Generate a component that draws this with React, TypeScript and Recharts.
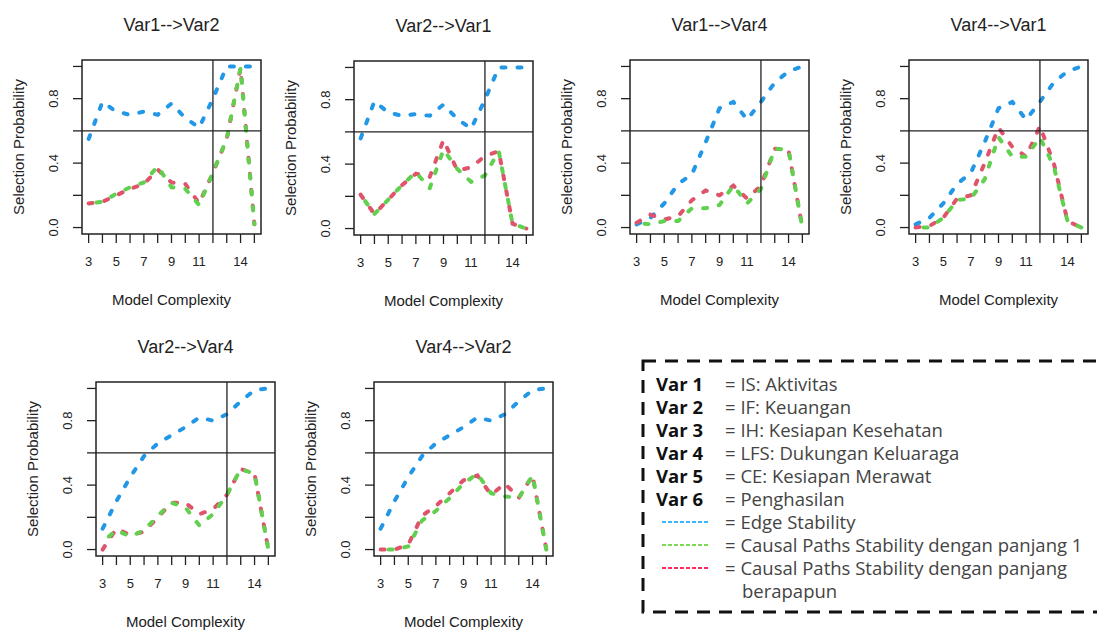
import React from 'react';
import { LineChart, Line, XAxis, YAxis, ReferenceLine, ReferenceArea } from 'recharts';

// ---------- data ----------
const complexity = [3, 4, 5, 6, 7, 8, 9, 10, 11, 12, 13, 14, 15];
const xTickLabels = [3, 5, 7, 9, 11, 14];
const yTicks = [0, 0.2, 0.4, 0.6, 0.8, 1];
const yTickLabels = [0, 0.4, 0.8];
const complexityCut = 12;
const probabilityCut = 0.6;

const panelTitles = ['Var1-->Var2', 'Var2-->Var1', 'Var1-->Var4', 'Var4-->Var1', 'Var2-->Var4', 'Var4-->Var2'];

// Var1-->Var2
const v1v2Edge = [0.55, 0.78, 0.72, 0.7, 0.72, 0.7, 0.77, 0.68, 0.62, 0.8, 1.0, 1.0, 1.0];
const v1v2Len1 = [0.15, 0.16, 0.21, 0.25, 0.28, 0.38, 0.25, 0.24, 0.14, 0.34, 0.55, 0.99, 0.02];
const v1v2Any = [0.15, 0.16, 0.2, 0.24, 0.27, 0.36, 0.28, 0.27, 0.15, 0.34, 0.55, 0.99, 0.02];
// Var2-->Var1
const v2v1Edge = [0.56, 0.79, 0.72, 0.7, 0.71, 0.7, 0.77, 0.68, 0.62, 0.8, 1.0, 1.0, 1.0];
const v2v1Len1 = [0.21, 0.09, 0.18, 0.27, 0.35, 0.25, 0.49, 0.37, 0.29, 0.33, 0.48, 0.03, 0.0];
const v2v1Any = [0.21, 0.09, 0.18, 0.27, 0.34, 0.32, 0.55, 0.36, 0.38, 0.45, 0.48, 0.03, 0.0];
// Var1-->Var4
const v1v4Edge = [0.02, 0.06, 0.15, 0.27, 0.33, 0.53, 0.74, 0.78, 0.67, 0.78, 0.9, 0.97, 1.0];
const v1v4Len1 = [0.03, 0.02, 0.04, 0.04, 0.12, 0.12, 0.14, 0.26, 0.15, 0.24, 0.49, 0.48, 0.0];
const v1v4Any = [0.03, 0.08, 0.05, 0.07, 0.17, 0.23, 0.2, 0.26, 0.18, 0.26, 0.49, 0.48, 0.0];
// Var4-->Var1
const v4v1Edge = [0.02, 0.06, 0.15, 0.27, 0.34, 0.53, 0.74, 0.78, 0.67, 0.78, 0.9, 0.97, 1.0];
const v4v1Len1 = [0.0, 0.0, 0.06, 0.17, 0.18, 0.3, 0.56, 0.44, 0.44, 0.56, 0.38, 0.04, 0.0];
const v4v1Any = [0.0, 0.01, 0.06, 0.18, 0.2, 0.4, 0.62, 0.5, 0.44, 0.63, 0.4, 0.04, 0.0];
// Var2-->Var4
const v2v4Edge = [0.13, 0.3, 0.45, 0.58, 0.66, 0.71, 0.76, 0.82, 0.8, 0.84, 0.92, 0.99, 1.0];
const v2v4Len1 = [0.05, 0.12, 0.08, 0.12, 0.21, 0.29, 0.26, 0.15, 0.22, 0.34, 0.5, 0.47, 0.0];
const v2v4Any = [0.0, 0.13, 0.09, 0.11, 0.2, 0.29, 0.29, 0.22, 0.25, 0.34, 0.5, 0.47, 0.0];
// Var4-->Var2
const v4v2Edge = [0.13, 0.3, 0.45, 0.58, 0.66, 0.71, 0.76, 0.82, 0.8, 0.84, 0.92, 0.99, 1.0];
const v4v2Len1 = [0.0, 0.0, 0.02, 0.18, 0.24, 0.32, 0.41, 0.47, 0.35, 0.33, 0.32, 0.46, 0.0];
const v4v2Any = [0.0, 0.0, 0.03, 0.21, 0.27, 0.35, 0.43, 0.46, 0.34, 0.41, 0.32, 0.46, 0.0];

const legendVars = ['Var 1', 'Var 2', 'Var 3', 'Var 4', 'Var 5', 'Var 6'];
const legendVarDesc = ['IS: Aktivitas', 'IF: Keuangan', 'IH: Kesiapan Kesehatan', 'LFS: Dukungan Keluaraga', 'CE: Kesiapan Merawat', 'Penghasilan'];
const legendSeries = ['Edge Stability', 'Causal Paths Stability dengan panjang 1', 'Causal Paths Stability dengan panjang'];
const legendWrap = 'berapapun';

// ---------- styling / layout ----------
const BLUE = '#2297E6';
const RED = '#DF536B';
const GREEN = '#61D04F';
const INK = '#222';
const RF = '"Liberation Sans", Arial, Helvetica, sans-serif';
const LF = '"Open Sans", "Noto Sans", sans-serif';

const BW = 179;
const BH = 174;
const ML = 80;
const MT = 10;
const MR = 10;
const MB = 50;

const panelBoxes = [
  { left: 82, top: 60 },
  { left: 354, top: 61 },
  { left: 630, top: 60 },
  { left: 909, top: 60 },
  { left: 96, top: 382 },
  { left: 374, top: 382 },
];

const panelSeries = [
  [v1v2Edge, v1v2Len1, v1v2Any],
  [v2v1Edge, v2v1Len1, v2v1Any],
  [v1v4Edge, v1v4Len1, v1v4Any],
  [v4v1Edge, v4v1Len1, v4v1Any],
  [v2v4Edge, v2v4Len1, v2v4Any],
  [v4v2Edge, v4v2Len1, v4v2Any],
];

const XTick = (props: any) => {
  const { x, y, payload } = props;
  if (!xTickLabels.includes(payload.value)) return <g />;
  return (
    <text x={x} y={y + 9.5} textAnchor="middle" fontSize={13} fill={INK} fontFamily={RF}>
      {payload.value}
    </text>
  );
};

const YTick = (props: any) => {
  const { x, y, payload } = props;
  const v = payload.value;
  if (!yTickLabels.some((t) => Math.abs(t - v) < 1e-6)) return <g />;
  return (
    <text
      x={x}
      y={y}
      transform={`rotate(-90 ${x} ${y})`}
      textAnchor="middle"
      fontSize={13}
      fill={INK}
      fontFamily={RF}
    >
      {v.toFixed(1)}
    </text>
  );
};

const abs = (left: number, top: number, extra: any = {}) => ({
  position: 'absolute' as const,
  left,
  top,
  whiteSpace: 'nowrap' as const,
  lineHeight: 1,
  ...extra,
});

function Panel({ idx }: { idx: number }) {
  const box = panelBoxes[idx];
  const [edge, len1, any] = panelSeries[idx];
  const rows = complexity.map((x, i) => ({ x, edge: edge[i], len1: len1[i], any: any[i] }));
  const cx = box.left + BW / 2;
  const lineProps = {
    type: 'linear' as const,
    dot: false,
    activeDot: false,
    isAnimationActive: false,
    strokeWidth: 4,
    strokeDasharray: '4 12',
    strokeLinecap: 'round' as const,
  };
  return (
    <>
      <div style={{ position: 'absolute', left: box.left - ML, top: box.top - MT }}>
        <LineChart
          width={ML + BW + MR}
          height={MT + BH + MB}
          data={rows}
          margin={{ top: MT, right: MR, left: ML - 40, bottom: MB - 40 }}
        >
          <XAxis
            type="number"
            dataKey="x"
            domain={[2.52, 15.48]}
            ticks={complexity}
            interval={0}
            height={40}
            axisLine={false}
            tickSize={9}
            tickMargin={13}
            tickLine={{ stroke: INK, strokeWidth: 1.3 }}
            tick={<XTick />}
            allowDataOverflow
          />
          <YAxis
            type="number"
            domain={[-0.04, 1.04]}
            ticks={yTicks}
            interval={0}
            width={40}
            axisLine={false}
            tickSize={9}
            tickMargin={15}
            tickLine={{ stroke: INK, strokeWidth: 1.3 }}
            tick={<YTick />}
            allowDataOverflow
          />
          <Line {...lineProps} dataKey="edge" stroke={BLUE} />
          <Line {...lineProps} dataKey="any" stroke={RED} />
          <Line {...lineProps} dataKey="len1" stroke={GREEN} strokeDashoffset={8} />
          <ReferenceLine x={complexityCut} stroke={INK} strokeWidth={1.3} />
          <ReferenceLine y={probabilityCut} stroke={INK} strokeWidth={1.3} />
          <ReferenceArea
            x1={2.52}
            x2={15.48}
            y1={-0.04}
            y2={1.04}
            fill="none"
            fillOpacity={0}
            stroke={INK}
            strokeWidth={1.5}
            ifOverflow="visible"
          />
        </LineChart>
      </div>
      <div style={abs(cx, box.top - 35, { transform: 'translate(-50%,-50%)', fontSize: 18, fontFamily: RF, color: INK })}>
        {panelTitles[idx]}
      </div>
      <div
        style={abs(box.left - 64, box.top + BH / 2, {
          transform: 'translate(-50%,-50%) rotate(-90deg)',
          fontSize: 15,
          fontFamily: RF,
          color: INK,
        })}
      >
        Selection Probability
      </div>
      <div style={abs(cx, box.top + BH + 65, { transform: 'translate(-50%,-50%)', fontSize: 15, fontFamily: RF, color: INK })}>
        Model Complexity
      </div>
    </>
  );
}

function Legend() {
  const rowY = (i: number) => 384 + 23 * i;
  const seriesColors = ['#38b6ff', '#7ed957', '#ff2a5c'];
  const fs = 18.5;
  return (
    <>
      <svg style={{ position: 'absolute', left: 630, top: 350 }} width={467} height={275}>
        <rect x={13} y={11} width={480} height={251} fill="none" stroke="#111" strokeWidth={3} strokeDasharray="13 9" />
        {seriesColors.map((c, i) => (
          <line
            key={i}
            x1={32}
            x2={80}
            y1={rowY(6 + i) - 350}
            y2={rowY(6 + i) - 350}
            stroke={c}
            strokeWidth={2}
            strokeDasharray="4 2"
          />
        ))}
      </svg>
      {legendVars.map((v, i) => (
        <React.Fragment key={v}>
          <div style={abs(656, rowY(i), { transform: 'translateY(-50%)', fontSize: fs, fontFamily: LF, fontWeight: 700, color: '#111' })}>
            {v}
          </div>
          <div style={abs(725, rowY(i), { transform: 'translateY(-50%)', fontSize: fs, fontFamily: LF, color: '#444' })}>
            = {legendVarDesc[i]}
          </div>
        </React.Fragment>
      ))}
      {legendSeries.map((s, i) => (
        <div key={s} style={abs(725, rowY(6 + i), { transform: 'translateY(-50%)', fontSize: fs, fontFamily: LF, color: '#444' })}>
          = {s}
        </div>
      ))}
      <div style={abs(742, rowY(9), { transform: 'translateY(-50%)', fontSize: fs, fontFamily: LF, color: '#444' })}>
        {legendWrap}
      </div>
    </>
  );
}

export default function App() {
  return (
    <div
      style={{
        position: 'absolute',
        left: 0,
        top: 0,
        width: 1097,
        height: 630,
        background: '#fff',
        overflow: 'hidden',
      }}
    >
      {panelBoxes.map((_, i) => (
        <Panel key={i} idx={i} />
      ))}
      <Legend />
    </div>
  );
}
